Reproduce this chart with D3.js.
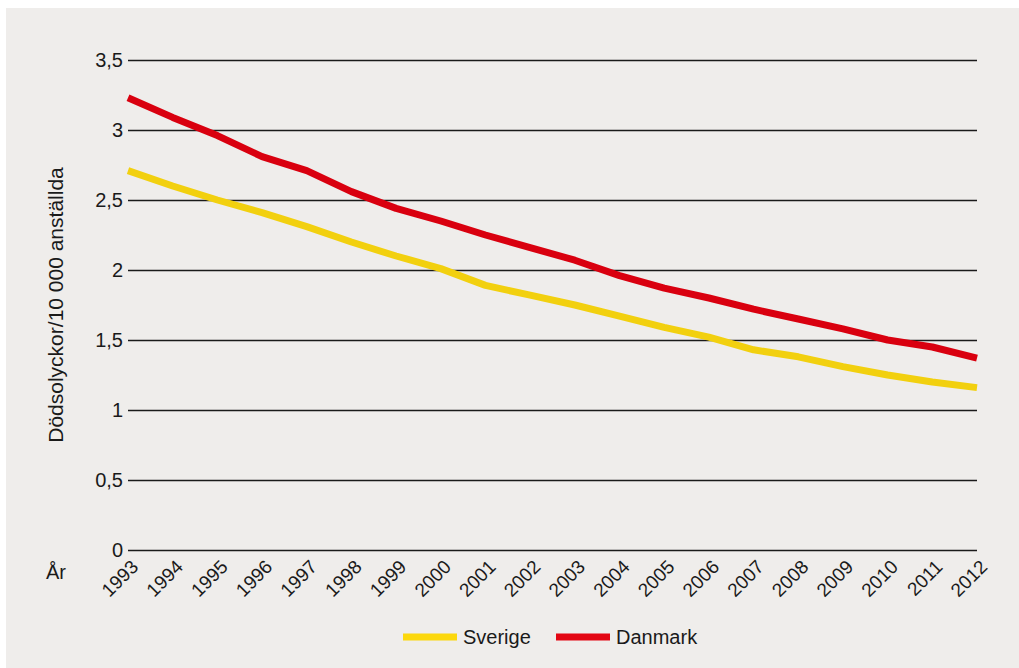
<!DOCTYPE html>
<html>
<head>
<meta charset="utf-8">
<script src="https://cdn.jsdelivr.net/npm/d3@7/dist/d3.min.js"></script>
<style>
  html, body { margin: 0; padding: 0; background: #ffffff; }
  svg { display: block; font-family: "Liberation Sans", Arial, Helvetica, sans-serif; }
</style>
</head>
<body>
<svg id="chart" width="1019" height="668"></svg>
<script>
// Fatal accidents per 10 000 employees, 1993–2012
const years = [1993, 1994, 1995, 1996, 1997, 1998, 1999, 2000, 2001, 2002,
               2003, 2004, 2005, 2006, 2007, 2008, 2009, 2010, 2011, 2012];
const sverige = [2.71, 2.60, 2.50, 2.41, 2.31, 2.20, 2.10, 2.01, 1.89, 1.82,
                 1.75, 1.67, 1.59, 1.52, 1.43, 1.38, 1.31, 1.25, 1.20, 1.16];
const danmark = [3.23, 3.09, 2.96, 2.81, 2.71, 2.56, 2.44, 2.35, 2.25, 2.16,
                 2.07, 1.96, 1.87, 1.80, 1.72, 1.65, 1.58, 1.50, 1.45, 1.37];
const yTicks = [0, 0.5, 1, 1.5, 2, 2.5, 3, 3.5];
const seriesNames = ["Sverige", "Danmark"];
const seriesColors = ["#f2d00f", "#d9000f"];
const legendColors = ["#fcd80d", "#e30613"];
const yLabel = "Dödsolyckor/10 000 anställda";
const xLabel = "År";

const FONT = "Liberation Sans, Arial, sans-serif";
const INK = "#1a1a1a";

const svg = d3.select("#chart");

// light panel behind everything
svg.append("rect")
  .attr("x", 6).attr("y", 8)
  .attr("width", 1019 - 6).attr("height", 668 - 8)
  .attr("fill", "#efedeb");

const x = d3.scaleLinear().domain([years[0], years[years.length - 1]]).range([128, 977]);
const y = d3.scaleLinear().domain([0, 3.5]).range([550, 60]);

const fmt = d => String(d).replace(".", ",");

// horizontal grid lines with their labels
const yAxis = d3.axisLeft(y)
  .tickValues(yTicks)
  .tickFormat(fmt)
  .tickSize(-(977 - 128))
  .tickPadding(5);

const gy = svg.append("g").attr("transform", "translate(128,0)").call(yAxis);
gy.select(".domain").remove();
gy.selectAll(".tick line").attr("stroke", INK).attr("stroke-width", 1.3);
gy.selectAll(".tick text")
  .attr("font-size", 20)
  .attr("fill", INK)
  .attr("font-family", FONT);

// year labels, rotated
const xAxis = d3.axisBottom(x).tickValues(years).tickFormat(d3.format("d")).tickSize(0);
const gx = svg.append("g").attr("transform", "translate(0,550)").call(xAxis);
gx.select(".domain").remove();
gx.selectAll(".tick text")
  .attr("font-size", 19)
  .attr("fill", INK)
  .attr("font-family", FONT)
  .attr("text-anchor", "end")
  .attr("dy", null)
  .attr("y", 0)
  .attr("transform", "translate(11,18) rotate(-45)");

// axis titles
svg.append("text")
  .attr("transform", "translate(63,305) rotate(-90)")
  .attr("text-anchor", "middle")
  .attr("font-size", 21)
  .attr("fill", INK)
  .text(yLabel);

svg.append("text")
  .attr("x", 46).attr("y", 579)
  .attr("font-size", 20)
  .attr("fill", INK)
  .text(xLabel);

// series lines
const line = d3.line()
  .x((d, i) => x(years[i]))
  .y(d => y(d));

[sverige, danmark].forEach((vals, k) => {
  svg.append("path")
    .datum(vals)
    .attr("fill", "none")
    .attr("stroke", seriesColors[k])
    .attr("stroke-width", 7)
    .attr("stroke-linejoin", "round")
    .attr("d", line);
});

// legend
const legendX = [403, 556];
seriesNames.forEach((name, k) => {
  const g = svg.append("g").attr("transform", `translate(${legendX[k]},637)`);
  g.append("line")
    .attr("x1", 0).attr("x2", 54)
    .attr("stroke", legendColors[k]).attr("stroke-width", 7);
  g.append("text")
    .attr("x", 60).attr("y", 7)
    .attr("font-size", 20)
    .attr("fill", INK)
    .text(name);
});
</script>
</body>
</html>
